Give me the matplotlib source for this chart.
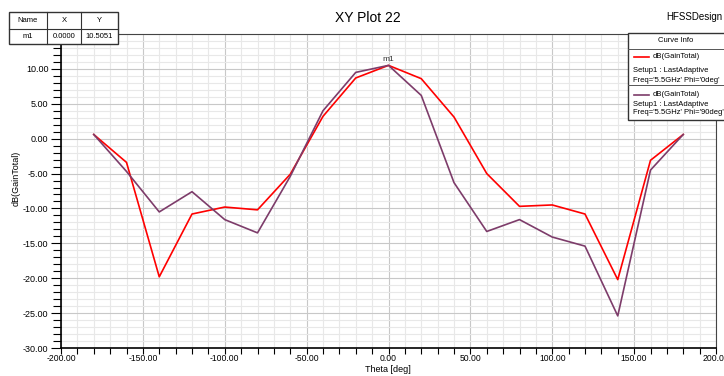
import numpy as np
import matplotlib
matplotlib.use("Agg")
import matplotlib.pyplot as plt
from matplotlib.ticker import MultipleLocator, FormatStrFormatter
from matplotlib.patches import Rectangle
from matplotlib.lines import Line2D

plt.rcParams['font.family'] = ['Liberation Sans', 'DejaVu Sans']

# 方向图数据 theta (deg) 与增益 (dB)
theta = [-180, -160, -140, -120, -100, -80, -60, -40, -20, 0,
         20, 40, 60, 80, 100, 120, 140, 160, 180]
gain_phi0 = [0.6, -3.4, -19.8, -10.8, -9.8, -10.2, -5.1, 3.2, 8.7, 10.5051,
             8.6, 3.1, -5.0, -9.7, -9.5, -10.8, -20.2, -3.1, 0.6]
gain_phi90 = [0.6, -4.7, -10.5, -7.6, -11.6, -13.5, -5.4, 4.0, 9.5, 10.5051,
              6.2, -6.3, -13.3, -11.6, -14.1, -15.4, -25.4, -4.5, 0.6]

marker_name = 'm1'
marker_x = 0.0
marker_y = 10.5051

red = '#ff0000'
purple = '#7d3c6a'

W, H = 724, 376
fig = plt.figure(figsize=(W / 100, H / 100), dpi=100)
ax = fig.add_axes([61 / W, 1 - 348 / H, (716 - 61) / W, (348 - 34) / H])

ax.plot(theta, gain_phi0, color=red, lw=1.2, zorder=3)
ax.plot(theta, gain_phi90, color=purple, lw=1.2, zorder=3)
ax.text(marker_x, marker_y + 0.3, marker_name, ha='center', va='bottom',
        fontsize=6, color='#333333')

ax.set_xlim(-200, 200)
ax.set_ylim(-30, 15)
ax.xaxis.set_major_locator(MultipleLocator(50))
ax.xaxis.set_minor_locator(MultipleLocator(10))
ax.yaxis.set_major_locator(MultipleLocator(5))
ax.yaxis.set_minor_locator(MultipleLocator(1))
ax.xaxis.set_major_formatter(FormatStrFormatter('%.2f'))
ax.yaxis.set_major_formatter(FormatStrFormatter('%.2f'))
ax.set_yticks([-30, -25, -20, -15, -10, -5, 0, 5, 10])

ax.grid(which='major', color='#c8c8c8', lw=0.8)
ax.grid(which='minor', color='#e8e8e8', lw=0.8)
ax.set_axisbelow(True)
ax.tick_params(axis='y', which='major', direction='out', length=7,
               width=0.8, labelsize=6.5, pad=2)
ax.tick_params(axis='y', which='minor', direction='out', length=6, width=0.8)
ax.tick_params(axis='x', which='major', direction='out', length=4,
               width=0.8, labelsize=6.2, pad=0)
ax.tick_params(axis='x', which='minor', direction='out', length=4, width=0.8)
for side in ['left', 'bottom']:
    ax.spines[side].set_color('black')
    ax.spines[side].set_linewidth(1.2)
ax.spines['top'].set_color('#444444')
ax.spines['right'].set_color('#444444')

fig.text(388 / W, 1 - 369 / H, 'Theta [deg]', ha='center', va='center',
         fontsize=6.5)
fig.text(16 / W, 1 - 178 / H, 'dB(GainTotal)', rotation=90, ha='center',
         va='center', fontsize=6.5)

fig.text(368 / W, 1 - 18 / H, 'XY Plot 22', ha='center', va='center',
         fontsize=10)
fig.text(722 / W, 1 - 17 / H, 'HFSSDesign', ha='right', va='center',
         fontsize=7)


def fx(px):
    return px / W


def fy(py):
    return 1 - py / H


# 左上角的标记表格
cols = [9, 47, 81, 118]
rows = [12, 29, 44]
fig.patches.append(Rectangle((fx(cols[0]), fy(rows[2])),
                             fx(cols[3] - cols[0]), (rows[2] - rows[0]) / H,
                             transform=fig.transFigure, facecolor='white',
                             edgecolor='#333333', lw=1.0, zorder=5))
for c in cols[1:3]:
    fig.lines.append(Line2D([fx(c), fx(c)], [fy(rows[0]), fy(rows[2])],
                            transform=fig.transFigure, color='#333333',
                            lw=0.8, zorder=6))
fig.lines.append(Line2D([fx(cols[0]), fx(cols[3])], [fy(rows[1]), fy(rows[1])],
                        transform=fig.transFigure, color='#333333',
                        lw=0.8, zorder=6))
header = ['Name', 'X', 'Y']
values = [marker_name, '%.4f' % marker_x, '%.4f' % marker_y]
for i in range(3):
    xc = fx((cols[i] + cols[i + 1]) / 2)
    fig.text(xc, fy((rows[0] + rows[1]) / 2), header[i], ha='center',
             va='center', fontsize=5.5, zorder=7)
    fig.text(xc, fy((rows[1] + rows[2]) / 2), values[i], ha='center',
             va='center', fontsize=5.5, zorder=7)

# 右上角曲线信息框
lx0, lx1 = 628, 726
ly0, ly1 = 33, 120
fig.patches.append(Rectangle((fx(lx0), fy(ly1)), fx(lx1 - lx0),
                             (ly1 - ly0) / H, transform=fig.transFigure,
                             facecolor='white', edgecolor='#333333',
                             lw=1.0, zorder=5))
for yy in [49, 85]:
    fig.lines.append(Line2D([fx(lx0), fx(lx1)], [fy(yy), fy(yy)],
                            transform=fig.transFigure, color='#555555',
                            lw=0.7, zorder=6))
fig.text(fx(676), fy(41), 'Curve Info', ha='center', va='center',
         fontsize=5.5, zorder=7)
entries = [(red, "Freq='5.5GHz' Phi='0deg'", 57, 70.5, 80),
           (purple, "Freq='5.5GHz' Phi='90deg'", 95, 104.5, 113)]
for color, freq, y0, y1, y2 in entries:
    fig.lines.append(Line2D([fx(634), fx(649)], [fy(y0), fy(y0)],
                            transform=fig.transFigure, color=color,
                            lw=1.2, zorder=7))
    fig.text(fx(653), fy(y0), 'dB(GainTotal)', ha='left', va='center',
             fontsize=5.5, zorder=7)
    fig.text(fx(633), fy(y1), 'Setup1 : LastAdaptive', ha='left',
             va='center', fontsize=5.5, zorder=7)
    fig.text(fx(633), fy(y2), freq, ha='left', va='center',
             fontsize=5.5, zorder=7)

fig.savefig('out.png', dpi=100)
